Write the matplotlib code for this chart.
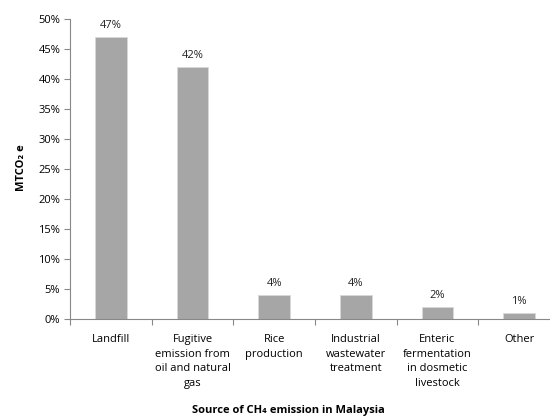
import matplotlib.pyplot as plt
from matplotlib.ticker import FuncFormatter, MultipleLocator

categories = ["Landfill", "Fugitive\nemission from\noil and natural\ngas", "Rice\nproduction",
              "Industrial\nwastewater\ntreatment", "Enteric\nfermentation\nin dosmetic\nlivestock", "Other"]
shares = [47, 42, 4, 4, 2, 1]

plt.rcParams['font.family'] = ['Open Sans', 'DejaVu Sans']

fig = plt.figure(figsize=(5.5, 4.17), dpi=100)
ax = fig.add_axes([70 / 550, 1 - 319 / 417, 490 / 550, 300 / 417])

x = list(range(len(shares)))
bars = ax.bar(x, shares, width=0.39, color="#a6a6a6", edgecolor="#d9d9d9", linewidth=0.6)
for xi, v in zip(x, shares):
    ax.text(xi, v + 1.0, f"{v}%", ha="center", va="bottom", fontsize=8, color="#222222")

ax.set_ylim(0, 50)
ax.set_xlim(-0.5, len(shares) - 0.5)
ax.yaxis.set_major_locator(MultipleLocator(5))
ax.yaxis.set_major_formatter(FuncFormatter(lambda v, _: f"{v:.0f}%"))

# group boundaries get the tick marks, names sit between them
ax.set_xticks([i - 0.5 for i in x])
ax.set_xticklabels([])
ax.set_xticks(x, minor=True)
ax.set_xticklabels(categories, minor=True, fontsize=8, va="top", linespacing=1.45)
ax.tick_params(axis="x", which="minor", length=0, pad=11)
ax.tick_params(axis="x", which="major", length=4, color="#888888")
ax.tick_params(axis="y", length=4, color="#888888", labelsize=8, pad=3)

for side in ["top", "right"]:
    ax.spines[side].set_visible(False)
for side in ["left", "bottom"]:
    ax.spines[side].set_color("#888888")

fig.text(22 / 550, 1 - 168 / 417, "MTCO₂ e", rotation=90, ha="center", va="center",
         fontsize=8, fontweight="bold", family=['Open Sans', 'DejaVu Sans'])
fig.text(288 / 550, 1 - 410 / 417, "Source of CH₄ emission in Malaysia", ha="center", va="center",
         fontsize=8, fontweight="bold", family=['Open Sans', 'DejaVu Sans'])

fig.savefig("out.png", dpi=100)
